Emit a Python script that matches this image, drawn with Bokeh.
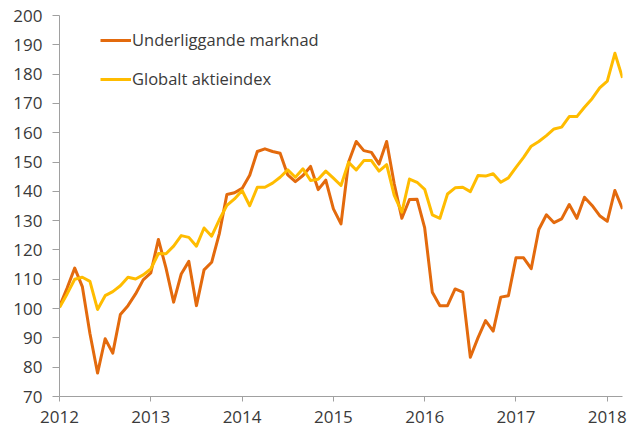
from bokeh.plotting import figure
from bokeh.models import Legend, LegendItem, FixedTicker, Range1d
from bokeh.embed import file_html
from bokeh.resources import INLINE

# Monthly data, Jan 2012 - Mar 2018
start_year = 2012
underliggande = [
    100.7, 107.0, 113.8, 107.5, 91.5, 78.0, 89.7, 84.8, 98.0, 101.0, 105.0, 109.8,
    112.2, 123.6, 113.8, 102.2, 111.8, 116.1, 101.0, 113.2, 115.8, 125.5, 138.9, 139.5,
    141.0, 145.5, 153.6, 154.5, 153.6, 153.0, 145.6, 143.3, 145.4, 148.5, 140.6, 143.8,
    134.0, 128.9, 150.0, 157.0, 153.9, 153.3, 149.3, 157.0, 142.5, 130.8, 137.2, 137.3,
    127.5, 105.6, 101.0, 101.0, 106.7, 105.6, 83.4, 90.0, 95.9, 92.3, 103.9, 104.4,
    117.3, 117.3, 113.6, 127.0, 132.0, 129.3, 130.6, 135.5, 130.8, 138.0, 135.2, 131.7,
    129.8, 140.3, 134.0,
]
globalt = [
    100.4, 105.0, 110.0, 110.7, 109.3, 99.7, 104.4, 105.8, 107.8, 110.7, 110.1, 111.5,
    113.5, 118.8, 118.7, 121.3, 124.9, 124.3, 121.3, 127.5, 124.7, 130.3, 135.2, 137.4,
    140.3, 135.1, 141.4, 141.4, 142.8, 144.8, 147.3, 144.8, 147.7, 143.7, 144.1, 146.9,
    144.5, 142.0, 149.9, 147.3, 150.5, 150.5, 146.9, 149.1, 138.6, 132.9, 144.2, 143.1,
    140.7, 132.0, 130.8, 139.1, 141.2, 141.4, 139.9, 145.4, 145.2, 146.0, 143.1, 144.6,
    148.2, 151.6, 155.4, 157.0, 159.0, 161.3, 161.9, 165.5, 165.5, 168.7, 171.6, 175.3,
    177.6, 187.1, 178.7,
]
x_ticks = [2012, 2013, 2014, 2015, 2016, 2017, 2018]
y_ticks = [70, 80, 90, 100, 110, 120, 130, 140, 150, 160, 170, 180, 190, 200]
series_names = ["Underliggande marknad", "Globalt aktieindex"]

x = [start_year + i / 12 for i in range(len(underliggande))]

ORANGE = "#E36A0D"
YELLOW = "#FFBC00"
TEXT = "#3a3a3a"
AXIS = "#a0a0a0"
FONT = "Open Sans"

p = figure(
    width=630, height=430,
    output_backend="svg", toolbar_location=None,
    x_range=Range1d(x[0], x[-1]), y_range=Range1d(70, 200),
    min_border_left=59, min_border_top=15, min_border_right=8, min_border_bottom=34,
)
p.outline_line_color = None
p.xgrid.visible = False
p.ygrid.visible = False

r1 = p.line(x, underliggande, line_color=ORANGE, line_width=3, line_join="round")
r2 = p.line(x, globalt, line_color=YELLOW, line_width=3, line_join="round")

for ax in (p.xaxis[0], p.yaxis[0]):
    ax.axis_line_color = AXIS
    ax.major_tick_line_color = AXIS
    ax.minor_tick_line_color = None
    ax.major_tick_in = 0
    ax.major_label_text_font = FONT
    ax.major_label_text_font_size = "17px"
    ax.major_label_text_color = TEXT

p.xaxis.ticker = FixedTicker(ticks=x_ticks)
p.xaxis.major_label_overrides = {t: str(t) for t in x_ticks}
p.xaxis.major_tick_out = 5
p.xaxis.major_label_standoff = 9
p.yaxis.ticker = FixedTicker(ticks=y_ticks)
p.yaxis.major_tick_out = 7
p.yaxis.major_label_standoff = 10

legend = Legend(
    items=[LegendItem(label=series_names[0], renderers=[r1]),
           LegendItem(label=series_names[1], renderers=[r2])],
    location=(41, 306),
    padding=0, margin=0, spacing=16,
    glyph_width=31, glyph_height=20, label_height=20, label_standoff=1,
    label_text_font=FONT, label_text_font_size="16.5px", label_text_color=TEXT,
    background_fill_alpha=0, border_line_color=None,
)
p.add_layout(legend)

open("out.html", "w").write(file_html(p, INLINE))
